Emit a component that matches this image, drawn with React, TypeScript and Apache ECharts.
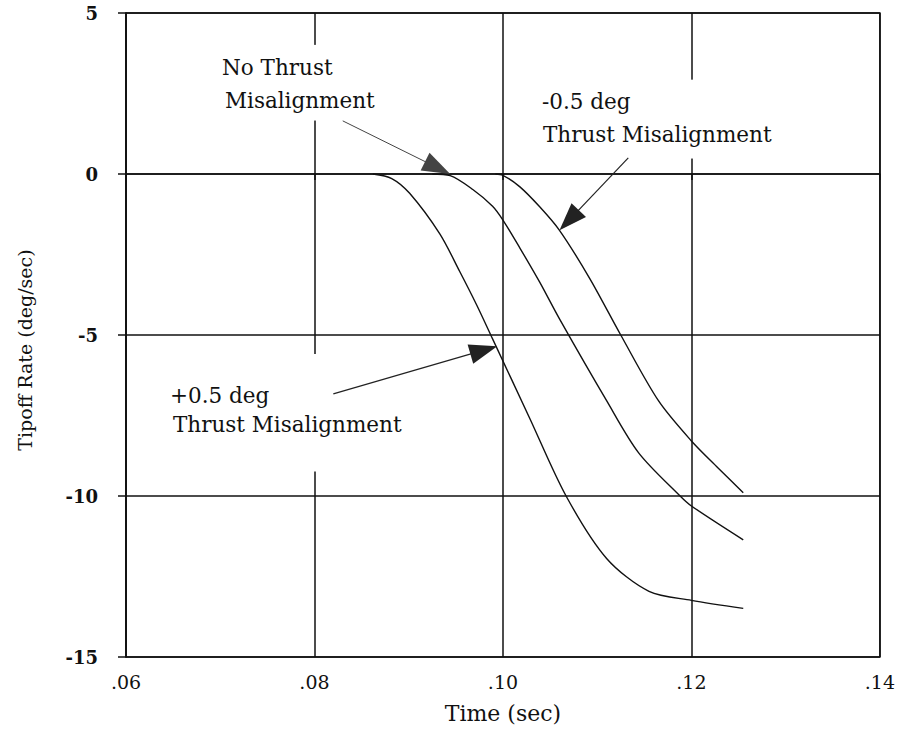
import React, { useEffect, useRef } from "react";
import * as echarts from "echarts";

// +0.5 deg thrust misalignment (leftmost curve)
const plusX = [0.0862, 0.0882, 0.0901, 0.0933, 0.0954, 0.0972, 0.0989, 0.1028, 0.1067, 0.111, 0.1155, 0.12, 0.1255];
const plusY = [0, -0.14, -0.6, -1.86, -3.02, -4.06, -5.12, -7.56, -10.0, -11.94, -12.96, -13.24, -13.49];

// No thrust misalignment (middle curve)
const noneX = [0.0925, 0.0944, 0.0968, 0.0989, 0.1, 0.1018, 0.1039, 0.106, 0.111, 0.1144, 0.1188, 0.12, 0.1255];
const noneY = [0, -0.05, -0.48, -1.0, -1.43, -2.3, -3.36, -4.5, -7.04, -8.66, -10.0, -10.31, -11.36];

// -0.5 deg thrust misalignment (rightmost curve)
const minusX = [0.0992, 0.1, 0.1018, 0.1039, 0.106, 0.1092, 0.1125, 0.1165, 0.12, 0.1228, 0.1255];
const minusY = [0, -0.04, -0.4, -1.02, -1.75, -3.24, -5.0, -7.04, -8.29, -9.12, -9.9];

const xTicks = [0.06, 0.08, 0.1, 0.12, 0.14];
const yTicks = [5, 0, -5, -10, -15];

// arrows: [fromX, fromY, toX (tip), toY (tip)]
const arrowNone = [0.083, 1.65, 0.0944, 0];
const arrowMinus = [0.1133, 0.5, 0.106, -1.75];
const arrowPlus = [0.082, -6.83, 0.0994, -5.35];

// gaps in vertical grid lines behind labels: [x, yFrom, yTo]
const gaps = [
  [0.08, 4.01, 1.66],
  [0.08, -5.59, -9.24],
  [0.12, 2.93, 0.48],
];

const FONT = "DejaVu Serif";
const ARROW_LEN = 28;

const zip = (xs: number[], ys: number[]) => xs.map((x, i) => [x, ys[i]]);

export default function App() {
  const ref = useRef<HTMLDivElement>(null);
  useEffect(() => {
    document.body.style.margin = "0";
    if (!ref.current) return;
    const chart = echarts.init(ref.current, null, { renderer: "svg" });
    const lineSeries = (xs: number[], ys: number[]) => ({
      type: "line",
      data: zip(xs, ys),
      smooth: 0.3,
      symbol: "none",
      lineStyle: { color: "#111", width: 1.4 },
      z: 3,
    });
    const option: any = {
      animation: false,
      backgroundColor: "#fff",
      grid: {
        left: 126,
        right: 15,
        top: 13,
        bottom: 70,
        show: true,
        borderColor: "#111",
        borderWidth: 1.5,
        backgroundColor: "transparent",
      },
      xAxis: {
        type: "value",
        min: 0.06,
        max: 0.14,
        interval: 0.02,
        name: "Time (sec)",
        nameLocation: "middle",
        nameGap: 45,
        nameTextStyle: { fontFamily: FONT, fontSize: 22, color: "#111" },
        axisLine: { show: true, lineStyle: { color: "#111", width: 1.5 } },
        axisTick: { show: true, length: 6, lineStyle: { color: "#111", width: 1.5 } },
        axisLabel: {
          margin: 15,
          fontFamily: FONT,
          fontSize: 19,
          color: "#111",
          formatter: (v: number) => {
            const t = xTicks.find((k) => Math.abs(k - v) < 1e-9);
            return t === undefined ? "" : t.toFixed(2).replace(/^0/, "");
          },
        },
        splitLine: { show: true, lineStyle: { color: "#111", width: 1.5 } },
      },
      yAxis: {
        type: "value",
        min: -15,
        max: 5,
        interval: 5,
        name: "Tipoff Rate (deg/sec)",
        nameLocation: "middle",
        nameGap: 92,
        nameTextStyle: { fontFamily: FONT, fontSize: 19, color: "#111", padding: [0, 30, 0, 0] },
        axisLine: { show: true, lineStyle: { color: "#111", width: 1.5 } },
        axisTick: { show: true, length: 8, lineStyle: { color: "#111", width: 1.5 } },
        axisLabel: {
          margin: 28,
          fontFamily: FONT,
          fontSize: 18,
          fontWeight: "bold",
          color: "#111",
          formatter: (v: number) => (yTicks.includes(v) ? String(v) : ""),
        },
        splitLine: { show: true, lineStyle: { color: "#111", width: 1.5 } },
      },
      series: [lineSeries(plusX, plusY), lineSeries(noneX, noneY), lineSeries(minusX, minusY)],
    };
    chart.setOption(option);

    const px = (x: number, y: number) => chart.convertToPixel({ gridIndex: 0 }, [x, y]) as number[];

    // arrow lines: end point pulled back so the triangle's tip lands on the target
    const arrowData = (a: number[]) => {
      const s = px(a[0], a[1]);
      const t = px(a[2], a[3]);
      const dx = t[0] - s[0];
      const dy = t[1] - s[1];
      const len = Math.hypot(dx, dy);
      const e = [t[0] - (dx / len) * (ARROW_LEN / 2), t[1] - (dy / len) * (ARROW_LEN / 2)];
      return [{ x: s[0], y: s[1] }, { x: e[0], y: e[1] }];
    };
    const mk = (a: number[], color: string, width: number) => ({
      markLine: {
        silent: true,
        symbol: ["none", "triangle"],
        symbolSize: [20, ARROW_LEN],
        label: { show: false },
        lineStyle: { color, width, type: "solid" },
        itemStyle: { color: "#000" },
        data: [arrowData(a)],
      },
    });

    const gapRects = gaps.map((g) => {
      const a = px(g[0], g[1]);
      const b = px(g[0], g[2]);
      return {
        type: "rect",
        z: 1,
        shape: { x: a[0] - 4, y: a[1], width: 8, height: b[1] - a[1] },
        style: { fill: "#fff" },
      };
    });
    const textStyle = { fontFamily: FONT, fontSize: 21.5, fill: "#111" };
    const texts = [
      { t: "No Thrust", x: 222, y: 73 },
      { t: "Misalignment", x: 225, y: 106 },
      { t: "-0.5 deg", x: 542, y: 107 },
      { t: "Thrust Misalignment", x: 543, y: 140 },
      { t: "+0.5 deg", x: 170, y: 401 },
      { t: "Thrust Misalignment", x: 173, y: 430 },
    ].map((d) => ({
      type: "text",
      z: 4,
      x: d.x,
      y: d.y + 5,
      style: { ...textStyle, text: d.t, verticalAlign: "bottom" },
    }));
    chart.setOption({
      series: [mk(arrowPlus, "#222", 1.2), mk(arrowNone, "#444", 1), mk(arrowMinus, "#222", 1.2)],
      graphic: [...gapRects, ...texts],
    });

    return () => chart.dispose();
  }, []);
  return <div ref={ref} style={{ width: 898, height: 729 }} />;
}
